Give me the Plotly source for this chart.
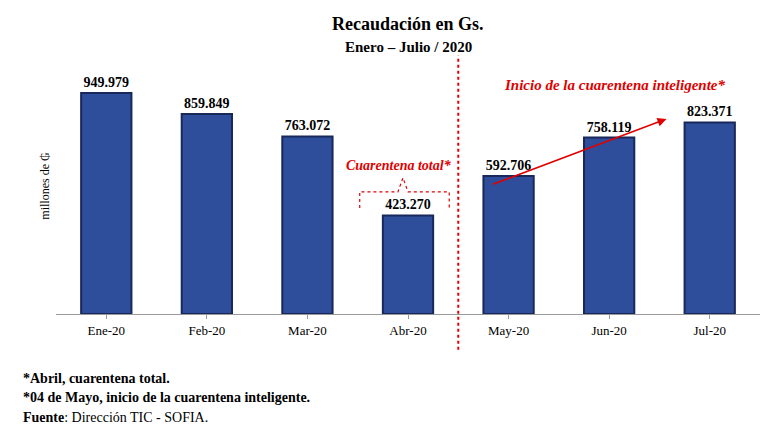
import plotly.graph_objects as go

months = ["Ene-20", "Feb-20", "Mar-20", "Abr-20", "May-20", "Jun-20", "Jul-20"]
values = [949.979, 859.849, 763.072, 423.270, 592.706, 758.119, 823.371]
labels = ["949.979", "859.849", "763.072", "423.270", "592.706", "758.119", "823.371"]

F = "Liberation Serif"
fig = go.Figure(go.Bar(
    x=list(range(len(months))), y=values, width=0.5,
    marker=dict(color="#2E4E9C", line=dict(color="#18285A", width=2)),
    text=["<b>" + l + "</b>" for l in labels], textposition="outside", cliponaxis=False,
    textfont=dict(family=F, size=14, color="black"),
))
fig.update_layout(
    width=770, height=433, plot_bgcolor="white", paper_bgcolor="white",
    margin=dict(l=48, r=18, t=50, b=127), showlegend=False, bargap=0.5,
    font=dict(family=F, color="black"),
    xaxis=dict(tickmode="array", tickvals=list(range(7)), ticktext=months,
               range=[-0.5, 6.5], showline=True, linecolor="#999", ticks="outside",
               ticklen=4, tickcolor="#999", tickfont=dict(size=13, family=F)),
    yaxis=dict(range=[0, 1100], showticklabels=False, showgrid=False, zeroline=False,
               title=dict(text="millones de ₲", font=dict(size=12, family=F), standoff=2)),
)
fig.add_annotation(text="<b>Recaudación en Gs.</b>", xref="paper", yref="paper", x=0.5, y=1.0,
                   yshift=46, showarrow=False, font=dict(size=18, family=F))
fig.add_annotation(text="<b>Enero – Julio / 2020</b>", xref="paper", yref="paper", x=0.5, y=1.0,
                   yshift=21, showarrow=False, font=dict(size=15, family=F))
fig.add_shape(type="line", xref="x", yref="paper", x0=3.5, x1=3.5, y0=-0.14, y1=1.01,
              line=dict(color="#E00000", width=2, dash="dot"))
fig.add_annotation(text="<b><i>Cuarentena total*</i></b>", x=2.91, y=640, showarrow=False,
                   font=dict(size=14, color="#E00000", family=F))
fig.add_shape(type="path", xref="x", yref="y",
              path="M 2.52,455 L 2.52,525 L 2.9,525 L 2.95,585 L 3.0,525 L 3.41,525 L 3.41,455",
              line=dict(color="#E00000", width=1.2, dash="dot"))
fig.add_annotation(text="<b><i>Inicio de la cuarentena inteligente*</i></b>", x=5.05, y=985,
                   showarrow=False, font=dict(size=15, color="#E00000", family=F))
fig.add_annotation(x=5.57, y=838, ax=3.83, ay=555, xref="x", yref="y", axref="x", ayref="y",
                   text="", showarrow=True, arrowhead=2, arrowsize=1.2, arrowwidth=1.5,
                   arrowcolor="#E00000")
notes = ["<b>*Abril, cuarentena total.</b>",
         "<b>*04 de Mayo, inicio de la cuarentena inteligente.</b>",
         "<b>Fuente</b>: Dirección TIC - SOFIA."]
for i, n in enumerate(notes):
    fig.add_annotation(text=n, xref="paper", yref="paper", x=-0.05, y=-0.25 - 0.078 * i,
                       xanchor="left", yanchor="middle", showarrow=False,
                       font=dict(size=14, family=F))
fig.write_html("out.html")
